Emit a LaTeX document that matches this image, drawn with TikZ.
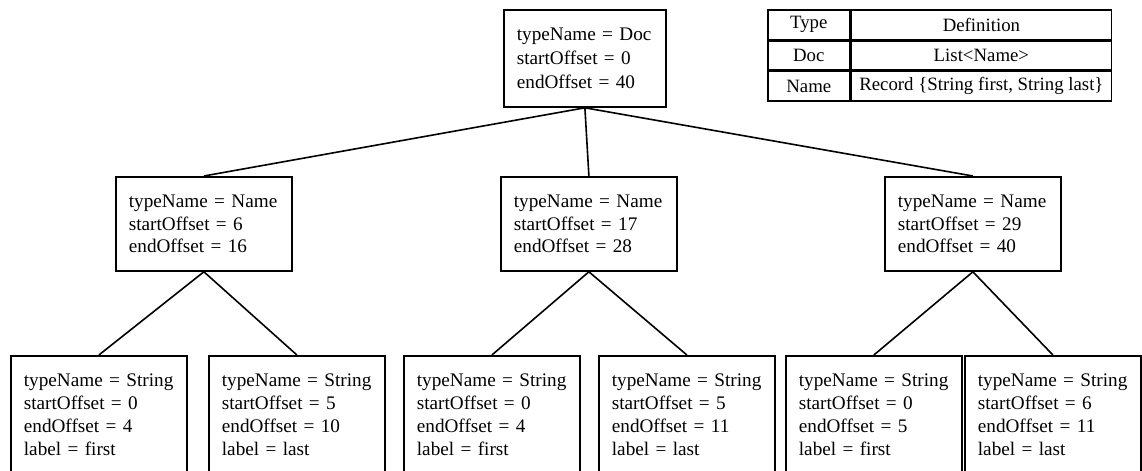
\documentclass[tikz,border=0pt]{standalone}
\usepackage{fontspec}
\setmainfont{Liberation Serif}
\usetikzlibrary{positioning}

\begin{document}
\begin{tikzpicture}[x=0.5pt, y=-0.5pt, every node/.style={align=left},
  obj/.style={draw, line width=0.9pt, anchor=north west, inner xsep=6.5pt, inner ysep=0pt,
    text width=75pt, font=\fontsize{9.6}{11.4}\selectfont},
  cell/.style={draw, line width=0.8pt, anchor=north west, align=center, inner sep=0pt,
    font=\fontsize{9.4}{11}\selectfont},
  link/.style={line width=0.8pt}]
\useasboundingbox (0,0) rectangle (1142,471);
\clip (0,0) rectangle (1142,471);
% root
\node[obj, text width=68pt, minimum height=48.5pt, font=\fontsize{9.6}{12.2}\selectfont] (nDoc) at (503,9) {typeName = Doc\\startOffset = 0\\endOffset = 40};
% names
\node[obj, minimum height=47pt] (nName1) at (115,176) {typeName = Name\\startOffset = 6\\endOffset = 16};
\node[obj, minimum height=47pt] (nName2) at (500,176) {typeName = Name\\startOffset = 17\\endOffset = 28};
\node[obj, minimum height=47pt] (nName3) at (884,176) {typeName = Name\\startOffset = 29\\endOffset = 40};
% strings
\node[obj, minimum height=59pt] (nStr1) at (10,355) {typeName = String\\startOffset = 0\\endOffset = 4\\label = first};
\node[obj, minimum height=59pt] (nStr2) at (208,355) {typeName = String\\startOffset = 5\\endOffset = 10\\label = last};
\node[obj, minimum height=59pt] (nStr3) at (403,355) {typeName = String\\startOffset = 0\\endOffset = 4\\label = first};
\node[obj, minimum height=59pt] (nStr4) at (598,355) {typeName = String\\startOffset = 5\\endOffset = 11\\label = last};
\node[obj, minimum height=59pt] (nStr5) at (785,355) {typeName = String\\startOffset = 0\\endOffset = 5\\label = first};
\node[obj, minimum height=59pt] (nStr6) at (964,355) {typeName = String\\startOffset = 6\\endOffset = 11\\label = last};
% tree edges
\draw[link] (nDoc.south) -- (nName1.north);
\draw[link] (nDoc.south) -- (nName2.north);
\draw[link] (nDoc.south) -- (nName3.north);
\draw[link] (nName1.south) -- (nStr1.north);
\draw[link] (nName1.south) -- (nStr2.north);
\draw[link] (nName2.south) -- (nStr3.north);
\draw[link] (nName2.south) -- (nStr4.north);
\draw[link] (nName3.south) -- (nStr5.north);
\draw[link] (nName3.south) -- (nStr6.north);
% type table
\node[cell, minimum width=41pt, minimum height=15pt] (tType) at (767,9) {Type};
\node[cell, minimum width=130pt, minimum height=15pt] (tDef) at (tType.north east) {Definition};
\node[cell, minimum width=41pt, minimum height=14pt] (tDoc) at (tType.south west) {Doc};
\node[cell, minimum width=130pt, minimum height=14pt] (tList) at (tDoc.north east) {List<Name>};
\node[cell, minimum width=41pt, minimum height=15pt] (tName) at (tDoc.south west) {Name};
\node[cell, minimum width=130pt, minimum height=15pt] (tRec) at (tName.north east) {Record \{String first, String last\}};
\end{tikzpicture}
\end{document}
